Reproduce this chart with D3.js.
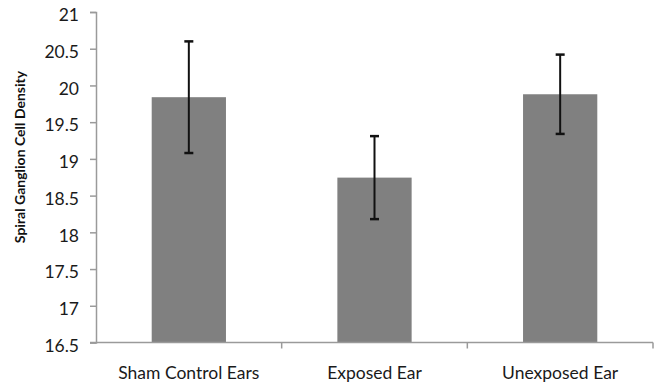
<!DOCTYPE html>
<html><head><meta charset="utf-8">
<script src="https://cdn.jsdelivr.net/npm/d3@7"></script>
<style>body{margin:0;background:#fff}</style>
</head><body>
<svg id="c" width="656" height="386"></svg>
<script>
const categories = ["Sham Control Ears", "Exposed Ear", "Unexposed Ear"];
const means = [19.84, 18.745, 19.88];
const errors = [0.76, 0.565, 0.54];
const yTicks = [16.5, 17, 17.5, 18, 18.5, 19, 19.5, 20, 20.5, 21];
const yTitle = "Spiral Ganglion Cell Density";

const svg = d3.select("#c");
const font = "Lato, 'Open Sans', sans-serif";
const x = d3.scaleBand().domain(categories).range([96, 653]).paddingInner(0.6).paddingOuter(0.3);
const y = d3.scaleLinear().domain([16.5, 21]).range([342.5, 12]);
const axisColor = "#9a9a9a";

// bars
svg.append("g").selectAll("rect").data(categories).join("rect")
  .attr("x", d => x(d)).attr("width", x.bandwidth())
  .attr("y", (d, i) => y(means[i])).attr("height", (d, i) => y(16.5) - y(means[i]))
  .attr("fill", "#808080");

// y axis
const ya = svg.append("g").attr("transform", "translate(96,0)")
  .call(d3.axisLeft(y).tickValues(yTicks).tickSize(6).tickPadding(11).tickFormat(d => String(d)));
ya.select(".domain").attr("stroke", axisColor).attr("stroke-width", 1.5);
ya.selectAll(".tick line").attr("stroke", axisColor).attr("stroke-width", 1.5);
ya.selectAll("text").attr("font-family", font).attr("font-size", 17.5).attr("fill", "#1a1a1a").attr("dy", "0.5em");

// x axis
const xa = svg.append("g").attr("transform", `translate(0,${y(16.5)})`);
xa.append("line").attr("x1", 90).attr("x2", 653).attr("stroke", axisColor).attr("stroke-width", 1.5);
const step = x.step();
const bounds = categories.map(c => x(c) + x.bandwidth() + step * 0.3);
xa.selectAll("line.t").data(bounds).join("line").attr("class", "t")
  .attr("x1", d => d).attr("x2", d => d).attr("y1", 0).attr("y2", 6)
  .attr("stroke", axisColor).attr("stroke-width", 1.5);
xa.selectAll("text").data(categories).join("text")
  .attr("x", d => x(d) + x.bandwidth() / 2).attr("y", 36.5)
  .attr("text-anchor", "middle").attr("font-family", font).attr("font-size", 17.5).attr("fill", "#1a1a1a")
  .text(d => d);

// error bars
const eg = svg.append("g").attr("stroke", "#111").attr("stroke-width", 2);
categories.forEach((c, i) => {
  const cx = x(c) + x.bandwidth() / 2;
  const hi = y(means[i] + errors[i]), lo = y(means[i] - errors[i]);
  eg.append("line").attr("x1", cx).attr("x2", cx).attr("y1", hi).attr("y2", lo);
  eg.append("line").attr("x1", cx - 4.5).attr("x2", cx + 4.5).attr("y1", hi).attr("y2", hi).attr("stroke-width", 2.5);
  eg.append("line").attr("x1", cx - 4.5).attr("x2", cx + 4.5).attr("y1", lo).attr("y2", lo).attr("stroke-width", 2.5);
});

// y title
svg.append("text").attr("transform", "translate(25,157) rotate(-90)")
  .attr("text-anchor", "middle").attr("font-family", font).attr("font-weight", "bold")
  .attr("font-size", 14).attr("fill", "#111").text(yTitle);
</script>
</body></html>
